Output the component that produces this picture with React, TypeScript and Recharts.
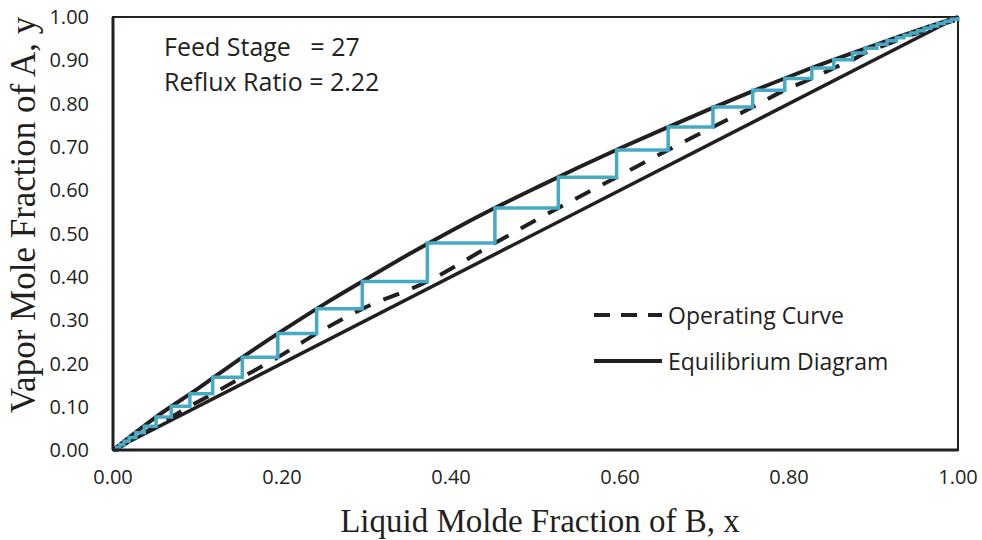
import React from 'react';
import { LineChart, Line, XAxis, YAxis, ReferenceArea } from 'recharts';

// stage (equilibrium) points of the McCabe-Thiele staircase, bottom to top
const stageX = [
  0.0, 0.004, 0.008, 0.013, 0.019, 0.027, 0.037, 0.051, 0.069, 0.091, 0.118, 0.153, 0.195,
  0.241, 0.295, 0.372, 0.452, 0.527, 0.596, 0.657, 0.71, 0.757, 0.795, 0.827, 0.853, 0.875,
  0.89, 0.904, 0.916, 0.927, 0.936, 0.944, 0.952, 0.96, 0.968, 0.976, 0.984, 0.992, 1.0,
];
const stageY = [
  0.0, 0.006, 0.012, 0.02, 0.029, 0.04, 0.055, 0.076, 0.101, 0.13, 0.168, 0.214, 0.269,
  0.326, 0.389, 0.478, 0.559, 0.63, 0.693, 0.746, 0.792, 0.831, 0.858, 0.882, 0.901, 0.917,
  0.928, 0.937, 0.945, 0.952, 0.958, 0.963, 0.968, 0.974, 0.979, 0.985, 0.99, 0.995, 1.0,
];

// equilibrium curve
const eqX = [0, 0.05, 0.1, 0.15, 0.2, 0.25, 0.3, 0.35, 0.4, 0.45, 0.5, 0.55, 0.6, 0.65, 0.7, 0.75, 0.8, 0.85, 0.9, 0.95, 1];
const eqY = [0, 0.075, 0.141, 0.21, 0.275, 0.337, 0.395, 0.452, 0.506, 0.557, 0.605, 0.652, 0.697, 0.74, 0.782, 0.823, 0.862, 0.899, 0.934, 0.968, 1];

// y = x diagonal
const diagX = [0, 1];
const diagY = [0, 1];

const xTicks = [0, 0.2, 0.4, 0.6, 0.8, 1];
const yTicks = [0, 0.1, 0.2, 0.3, 0.4, 0.5, 0.6, 0.7, 0.8, 0.9, 1];

const annotations = ['Feed Stage   = 27', 'Reflux Ratio = 2.22'];

const INK = '#231f20';
const BLUE = '#46aac6';
const SANS = "'Open Sans', sans-serif";
const SERIF = "'Liberation Serif', 'Times New Roman', serif";

const toPoints = (xs: number[], ys: number[]) => xs.map((x, i) => ({ x, y: ys[i] }));

const stairData = toPoints(stageX, stageY);
// operating curve passes through the bottom of each vertical step
const opData = [
  { x: 0, y: 0 },
  ...stageX.slice(1).map((x, i) => ({ x, y: stageY[i] })),
  { x: 1, y: 1 },
];
const eqData = toPoints(eqX, eqY);
const diagData = toPoints(diagX, diagY);

const LegendRow = ({ label, dashed, top }: { label: string; dashed: boolean; top: number }) => (
  <div style={{ position: 'absolute', left: 592, top, display: 'flex', alignItems: 'center', height: 30 }}>
    <svg width={74} height={10}>
      <line
        x1={2}
        y1={5}
        x2={70}
        y2={5}
        stroke={INK}
        strokeWidth={4}
        strokeDasharray={dashed ? '16 11' : undefined}
      />
    </svg>
    <span style={{ fontFamily: SANS, fontSize: 23, color: INK, marginLeft: 2, whiteSpace: 'nowrap' }}>{label}</span>
  </div>
);

const App: React.FC = () => {
  return (
    <div style={{ position: 'absolute', left: 0, top: 0, width: 982, height: 540, background: '#fff' }}>
      <LineChart width={982} height={540} margin={{ top: 17, right: 24, bottom: 30, left: 0 }}>
        <XAxis
          type="number"
          dataKey="x"
          domain={[0, 1]}
          ticks={xTicks}
          tickFormatter={(v: number) => v.toFixed(2)}
          tick={{ fontSize: 20, fill: INK, fontFamily: SANS }}
          tickLine={false}
          tickSize={0}
          tickMargin={20}
          height={60}
          axisLine={{ stroke: INK, strokeWidth: 3 }}
          allowDuplicatedCategory={false}
        />
        <YAxis
          type="number"
          domain={[0, 1]}
          ticks={yTicks}
          tickFormatter={(v: number) => v.toFixed(2)}
          tick={{ fontSize: 20, fill: INK, fontFamily: SANS }}
          tickLine={false}
          tickSize={0}
          tickMargin={24}
          width={113}
          axisLine={{ stroke: INK, strokeWidth: 3 }}
        />
        <ReferenceArea x1={0} x2={1} y1={0} y2={1} fill="none" stroke={INK} strokeWidth={2} />
        <Line
          data={eqData}
          dataKey="y"
          type="monotone"
          stroke={INK}
          strokeWidth={4}
          dot={false}
          isAnimationActive={false}
        />
        <Line
          data={diagData}
          dataKey="y"
          type="linear"
          stroke={INK}
          strokeWidth={3.5}
          dot={false}
          isAnimationActive={false}
        />
        <Line
          data={opData}
          dataKey="y"
          type="monotone"
          stroke={INK}
          strokeWidth={4}
          strokeDasharray="17 14"
          dot={false}
          isAnimationActive={false}
        />
        <Line
          data={stairData}
          dataKey="y"
          type="stepAfter"
          stroke={BLUE}
          strokeWidth={3.5}
          dot={false}
          isAnimationActive={false}
        />
      </LineChart>

      {annotations.map((t, i) => (
        <div
          key={t}
          style={{
            position: 'absolute',
            left: 164,
            top: 29 + i * 35,
            fontFamily: SANS,
            fontSize: 25,
            color: INK,
            whiteSpace: 'pre',
            lineHeight: '34px',
          }}
        >
          {t}
        </div>
      ))}

      <LegendRow label="Operating Curve" dashed top={300} />
      <LegendRow label="Equilibrium Diagram" dashed={false} top={346} />

      <div
        style={{
          position: 'absolute',
          left: 24,
          top: 215,
          transform: 'translate(-50%, -50%) rotate(-90deg)',
          fontFamily: SERIF,
          fontSize: 35,
          color: INK,
          whiteSpace: 'nowrap',
        }}
      >
        Vapor Mole Fraction of A, y
      </div>
      <div
        style={{
          position: 'absolute',
          left: 540,
          top: 521,
          transform: 'translate(-50%, -50%)',
          fontFamily: SERIF,
          fontSize: 33,
          color: INK,
          whiteSpace: 'nowrap',
        }}
      >
        Liquid Molde Fraction of B, x
      </div>
    </div>
  );
};

export default App;
